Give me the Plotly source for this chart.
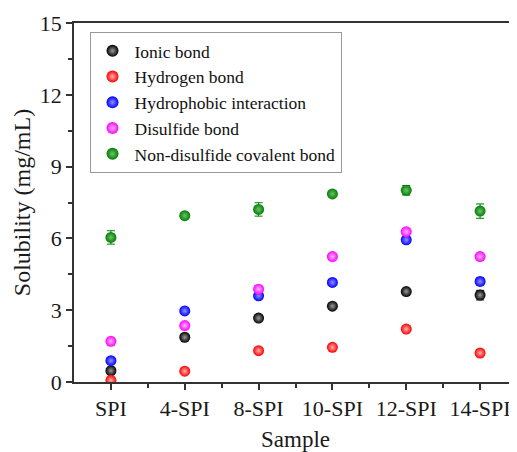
import plotly.graph_objects as go

categories = ["SPI", "4-SPI", "8-SPI", "10-SPI", "12-SPI", "14-SPI"]
series_names = ["Ionic bond", "Hydrogen bond", "Hydrophobic interaction",
                "Disulfide bond", "Non-disulfide covalent bond"]
ionic = [0.47, 1.87, 2.67, 3.17, 3.78, 3.63]
ionic_err = [0.06, 0.08, 0.08, 0.08, 0.08, 0.2]
hydrogen = [0.07, 0.45, 1.31, 1.45, 2.21, 1.21]
hydrogen_err = [0.05, 0.06, 0.07, 0.06, 0.08, 0.15]
hydrophobic = [0.89, 2.97, 3.60, 4.16, 5.94, 4.20]
hydrophobic_err = [0.06, 0.08, 0.08, 0.08, 0.12, 0.15]
disulfide = [1.70, 2.36, 3.88, 5.24, 6.28, 5.24]
disulfide_err = [0.08, 0.08, 0.1, 0.12, 0.1, 0.12]
noncovalent = [6.04, 6.95, 7.21, 7.86, 8.01, 7.14]
noncovalent_err = [0.28, 0.12, 0.28, 0.08, 0.2, 0.3]
yticks = [0, 3, 6, 9, 12, 15]

colors = ["#000000", "#ff0000", "#0000ff", "#ff00ff", "#008000"]
highlights = ["#9a9a9a", "#ffb0b0", "#9090ff", "#ffb8ff", "#70c070"]
values = [ionic, hydrogen, hydrophobic, disulfide, noncovalent]
errors = [ionic_err, hydrogen_err, hydrophobic_err, disulfide_err, noncovalent_err]

xidx = list(range(len(categories)))

fig = go.Figure()
for i, (name, v, e, c, h) in enumerate(zip(series_names, values, errors, colors, highlights)):
    fig.add_trace(go.Scatter(
        x=xidx, y=v, mode="markers", name=name, legendgroup=f"g{i}",
        error_y=dict(type="data", array=e, visible=True, color=c, thickness=1, width=4),
        marker=dict(size=11, color=c, line=dict(width=0),
                    gradient=dict(type="radial", color=h)),
    ))

font_family = "Times New Roman"
# the page body has an 8px margin, so the figure is placed at (8, 8)
fig.update_layout(
    width=509, height=444,
    margin=dict(l=66, r=0, t=15, b=70, autoexpand=False),
    paper_bgcolor="white", plot_bgcolor="white",
    font=dict(family=font_family, size=18, color="#1a1a1a"),
    showlegend=True,
    legend=dict(x=0.035, y=0.975, xanchor="left", yanchor="top",
                bgcolor="white", bordercolor="#999", borderwidth=1,
                font=dict(family=font_family, size=17.5, color="#111"),
                itemsizing="constant", itemwidth=34, tracegroupgap=0),
    xaxis=dict(
        range=[-0.5, 5.5], tickmode="array", tickvals=xidx, ticktext=categories,
        automargin=False,
        showgrid=False, zeroline=False, showline=True, linecolor="#333", linewidth=1.5,
        mirror=True, ticks="outside", ticklen=6, tickwidth=1.5, tickcolor="#333",
        minor=dict(tickmode="array", tickvals=[i + 0.5 for i in xidx[:-1]],
                   ticks="outside", ticklen=4, tickwidth=1.5, tickcolor="#333"),
        title=dict(text="Sample", font=dict(family=font_family, size=23)),
        tickfont=dict(family=font_family, size=22),
    ),
    yaxis=dict(
        range=[0, 15], tickmode="array", tickvals=yticks,
        automargin=False,
        showgrid=False, zeroline=False, showline=True, linecolor="#333", linewidth=1.5,
        ticks="outside", ticklen=6, tickwidth=1.5, tickcolor="#333",
        minor=dict(tickmode="array", tickvals=[1.5, 4.5, 7.5, 10.5, 13.5],
                   ticks="outside", ticklen=4, tickwidth=1.5, tickcolor="#333"),
        title=dict(text="Solubility (mg/mL)", font=dict(family=font_family, size=24), standoff=2),
        tickfont=dict(family=font_family, size=22),
    ),
)

fig.write_html("out.html")
